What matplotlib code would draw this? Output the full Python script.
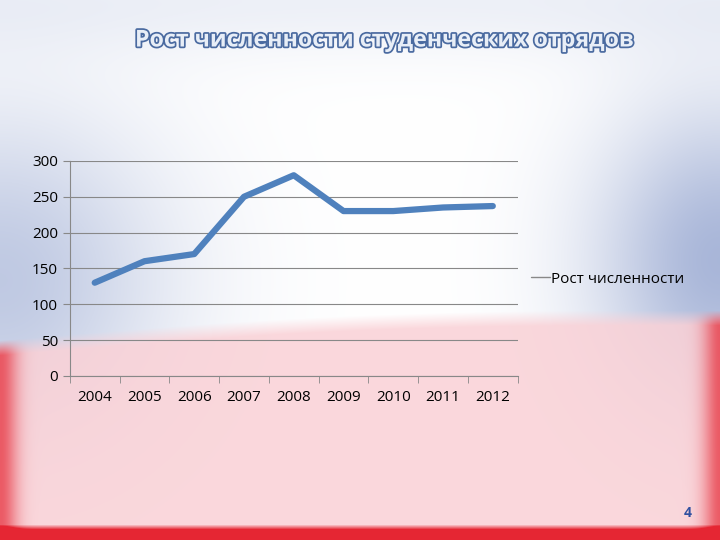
import numpy as np
import matplotlib
matplotlib.use('Agg')
import matplotlib.pyplot as plt
import matplotlib.patheffects as pe

plt.rcParams['font.family'] = ['Open Sans', 'DejaVu Sans']

years = ['2004', '2005', '2006', '2007', '2008', '2009', '2010', '2011', '2012']
values = [130, 160, 170, 250, 280, 230, 230, 235, 237]
series_name = 'Рост численности'
title = 'Рост численности студенческих отрядов'

fig = plt.figure(figsize=(7.2, 5.4), dpi=100)

# slide background: white centre, blue haze at top sides, red/pink lower band
bg = fig.add_axes([0, 0, 1, 1])
h, w = 540, 720
yy, xx = np.mgrid[0:h, 0:w]
img = np.ones((h, w, 3))
blue = np.array([0.55, 0.62, 0.80])
bl = np.exp(-((xx - 0) ** 2 / (2 * 120 ** 2) + (yy - 280) ** 2 / (2 * 120 ** 2))) * 0.55
br = np.exp(-((xx - 720) ** 2 / (2 * 90 ** 2) + (yy - 260) ** 2 / (2 * 110 ** 2))) * 0.75
bt = np.exp(-((yy - 0) ** 2) / (2 * 40 ** 2)) * 0.15
bmix = np.clip(bl + br + bt, 0, 1)[..., None]
img = img * (1 - bmix) + blue * bmix
edge = 340 - (xx / 720) * 30 - 10 * np.sin(xx / 720 * np.pi)
pink = np.array([0.98, 0.82, 0.84])
red = np.array([0.90, 0.15, 0.20])
pm = np.clip((yy - edge) / 15, 0, 1)[..., None]
img = img * (1 - pm * 0.85) + pink * pm * 0.85
side = (np.exp(-(xx ** 2) / (2 * 12 ** 2)) + np.exp(-((xx - 720) ** 2) / (2 * 12 ** 2)))
rm = np.clip(pm[..., 0] * side * 0.7 + np.clip((yy - 524) / 5, 0, 1), 0, 1)[..., None]
img = img * (1 - rm) + red * rm
bg.imshow(img, aspect='auto', extent=[0, 1, 0, 1], origin='upper')
bg.axis('off')

fig.text(0.532, 0.925, title, ha='center', va='center', fontsize=16.7, fontweight='bold',
         color='#e8eef7', path_effects=[pe.withStroke(linewidth=2.5, foreground='#4a6aa0')])
fig.text(0.955, 0.05, '4', ha='center', va='center', fontsize=10, fontweight='bold', color='#3050a0')

ax = fig.add_axes([0.097, 0.304, 0.622, 0.398])
ax.patch.set_alpha(0)
x = np.arange(len(years))
ax.plot(x, values, color='#4f81bd', lw=4.5, solid_capstyle='round', label=series_name)
ax.set_xlim(-0.5, len(years) - 0.5)
ax.set_ylim(0, 300)
ax.set_yticks(range(0, 301, 50))
ax.yaxis.grid(True, color='#888888', lw=0.8)
ax.set_axisbelow(True)
ax.set_xticks(x)
ax.set_xticklabels(years)
ax.set_xticks(np.arange(-0.5, len(years), 1), minor=True)
ax.tick_params(axis='x', which='major', length=0, pad=10, labelsize=11)
ax.tick_params(axis='x', which='minor', length=5, color='#888888')
ax.tick_params(axis='y', length=5, color='#888888', labelsize=11)
for s in ['top', 'right']:
    ax.spines[s].set_visible(False)
for s in ['left', 'bottom']:
    ax.spines[s].set_color('#888888')

leg = ax.legend(loc='center left', bbox_to_anchor=(1.0, 0.45), frameon=False,
                fontsize=11, handlelength=1.2, handletextpad=0.1)
leg.get_lines()[0].set_color('#888888')
leg.get_lines()[0].set_linewidth(1)

fig.savefig('out.png', dpi=100)
